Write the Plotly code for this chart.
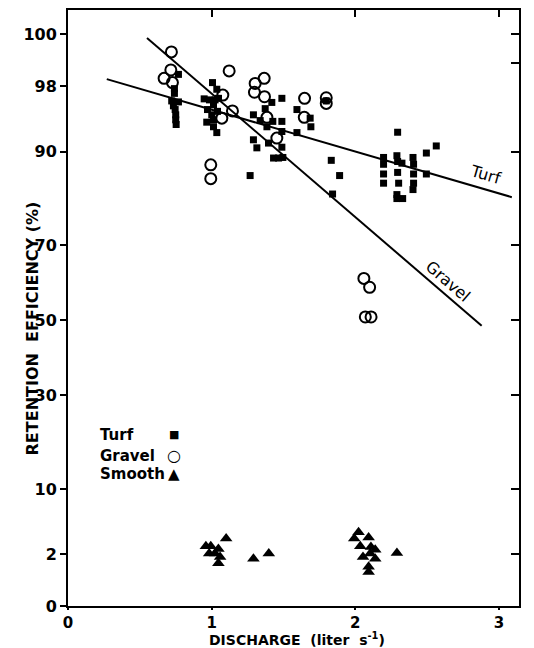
import numpy as np
import plotly.graph_objects as go

# ---------------- data ----------------
# Turf (filled squares): discharge (liter/s), retention efficiency (%)
turf_x = [0.769, 0.741, 0.741, 0.722, 0.769, 0.734, 0.746, 0.750, 0.750, 0.753,
          1.006, 1.036, 0.948, 0.985, 1.024, 1.048, 1.013, 0.971, 1.041, 1.001,
          0.966, 1.013, 1.036, 1.013,
          1.268, 1.291, 1.291, 1.315, 1.338, 1.373, 1.419, 1.385, 1.396, 1.426,
          1.489, 1.489, 1.489, 1.489, 1.431, 1.466, 1.496, 1.594, 1.594, 1.686,
          1.691, 1.798, 1.833, 1.891, 1.842,
          2.295, 2.197, 2.197, 2.197, 2.197, 2.290, 2.295, 2.325, 2.295, 2.302,
          2.290, 2.330, 2.290, 2.402, 2.406, 2.406, 2.406, 2.402, 2.495, 2.495,
          2.564]
turf_y = [98.8, 97.8, 97.4, 96.7, 96.6, 96.2, 95.8, 95.2, 94.6, 94.0,
          98.26, 97.75, 96.9, 96.8, 96.8, 96.95, 96.3, 95.8, 95.6, 95.2,
          94.3, 93.7, 92.9, 94.6,
          85.7, 95.2, 91.85, 90.6, 94.5, 95.9, 96.55, 93.7, 91.35, 94.4,
          96.95, 94.4, 93.05, 90.7, 88.9, 88.9, 89.0, 95.8, 92.9, 94.8,
          93.7, 96.7, 88.5, 85.7, 81.97,
          92.95, 89.0, 87.8, 86.0, 84.2, 89.3, 88.3, 88.0, 86.3, 84.2,
          81.85, 81.0, 81.0, 89.0, 87.8, 86.0, 84.2, 82.9, 89.75, 86.0,
          90.9]

# Gravel (open circles)
gravel_x = [0.720, 0.716, 0.669, 0.727, 1.122, 1.078, 1.145, 1.071, 0.994, 0.994,
            1.303, 1.366, 1.298, 1.368, 1.385, 1.454, 1.647, 1.645, 1.798, 1.798,
            2.060, 2.100, 2.070, 2.110]
gravel_y = [99.77, 99.05, 98.55, 98.26, 99.0, 97.25, 95.65, 94.8, 87.7, 85.1,
            98.2, 98.55, 97.5, 97.1, 94.9, 92.1, 96.95, 94.9, 97.0, 96.45,
            61.4, 59.0, 50.9, 50.9]

# Smooth (filled triangles)
smooth_x = [0.960, 0.994, 1.101, 1.047, 0.983, 1.024, 1.059, 1.047, 1.291, 1.398,
            2.023, 1.993, 2.035, 2.093, 2.109, 2.139, 2.054, 2.104, 2.139, 2.093,
            2.093, 2.290]
smooth_y = [2.68, 2.68, 3.4, 2.43, 2.06, 2.06, 1.8, 1.37, 1.68, 2.06,
            4.05, 3.4, 2.68, 3.5, 2.6, 2.38, 1.8, 2.06, 1.68, 1.16,
            0.87, 2.1]

# fitted lines (end points)
turf_fit_x = [0.27, 3.09]
turf_fit_y = [98.5, 81.3]
gravel_fit_x = [0.55, 2.88]
gravel_fit_y = [99.99, 48.5]

# axis ticks
x_ticks = [0, 1, 2, 3]
y_ticks = [0, 2, 10, 30, 50, 70, 90, 98, 100]
y_right_ticks = [2, 10, 30, 50, 70, 90, 99.4, 100]
top_ticks = [1, 2, 3]

X_RANGE = [0, 3.14]
Y_TOP_PCT_T = 1.638  # arcsine-transformed top of frame


def tr(p):
    """arcsine square-root transform used by the chart's vertical scale"""
    return np.arcsin(np.sqrt(np.clip(np.asarray(p, dtype=float), 0, 100) / 100.0))


FONT = "DejaVu Sans"

fig = go.Figure()

# fit lines
for fx, fy in [(turf_fit_x, turf_fit_y), (gravel_fit_x, gravel_fit_y)]:
    fig.add_trace(go.Scatter(x=fx, y=tr(fy), mode="lines",
                             line=dict(color="black", width=2),
                             hoverinfo="skip", showlegend=False))

fig.add_trace(go.Scatter(x=turf_x, y=tr(turf_y), mode="markers", name="Turf",
                         marker=dict(symbol="square", size=7, color="black"),
                         showlegend=False))
fig.add_trace(go.Scatter(x=gravel_x, y=tr(gravel_y), mode="markers", name="Gravel",
                         marker=dict(symbol="circle-open", size=11, color="black",
                                     line=dict(width=2, color="black")),
                         showlegend=False))
fig.add_trace(go.Scatter(x=smooth_x, y=tr(smooth_y), mode="markers", name="Smooth",
                         marker=dict(symbol="triangle-up", size=11, color="black"),
                         showlegend=False))

# dummy trace for the mirrored (top / right) tick axes
fig.add_trace(go.Scatter(x=[None], y=[None], xaxis="x2", yaxis="y2",
                         showlegend=False, hoverinfo="skip"))

tickfont = dict(family=FONT, size=16, color="black", weight="bold")
xtickfont = dict(family=FONT, size=15, color="black", weight="bold")

fig.update_layout(
    width=534, height=648,
    margin=dict(l=68, r=15, t=8, b=42),
    plot_bgcolor="white", paper_bgcolor="white",
    showlegend=False,
    xaxis=dict(range=X_RANGE, showline=True, linecolor="black", linewidth=2,
               mirror=True, ticks="outside", ticklen=2, tickwidth=2, tickcolor="black",
               tickvals=x_ticks, ticktext=[str(v) for v in x_ticks],
               tickfont=xtickfont, showgrid=False, zeroline=False),
    xaxis2=dict(range=X_RANGE, overlaying="x", side="top", ticks="inside",
                ticklen=7, tickwidth=2, tickcolor="black", tickvals=top_ticks,
                showticklabels=False, showline=False, showgrid=False, zeroline=False),
    yaxis=dict(range=[0, Y_TOP_PCT_T], showline=True, linecolor="black", linewidth=2,
               mirror=True, ticks="outside", ticklen=6, tickwidth=2, tickcolor="black",
               tickvals=tr(y_ticks), ticktext=[str(v) for v in y_ticks],
               tickfont=tickfont, showgrid=False, zeroline=False),
    yaxis2=dict(range=[0, Y_TOP_PCT_T], overlaying="y", side="right", ticks="inside",
                ticklen=8, tickwidth=2, tickcolor="black", tickvals=tr(y_right_ticks),
                showticklabels=False, showline=False, showgrid=False, zeroline=False),
)

ann = []
# axis titles
ann.append(dict(text="RETENTION  EFFICIENCY (%)", xref="paper", yref="paper",
                x=-0.104, y=0.465, textangle=-90, showarrow=False,
                font=dict(family=FONT, size=16, color="black", weight="bold")))
ann.append(dict(text="DISCHARGE  (liter  s<sup>-1</sup>)", xref="paper", yref="paper",
                x=0.508, y=-0.0555, showarrow=False, yanchor="middle",
                font=dict(family=FONT, size=14, color="black", weight="bold")))

# line labels
ann.append(dict(text="Turf", x=2.906, y=1.186, xref="x", yref="y", textangle=16,
                showarrow=False, font=dict(family=FONT, size=16, color="black")))
ann.append(dict(text="Gravel", x=2.648, y=0.893, xref="x", yref="y", textangle=41,
                showarrow=False, font=dict(family=FONT, size=16, color="black")))

# key
key = [("Turf", "■", 0.2876, 11), ("Gravel", "○", 0.2525, 16), ("Smooth", "▲", 0.2207, 15)]
for name, sym, yy, ssz in key:
    ann.append(dict(text=name, xref="paper", yref="paper", x=0.0665, y=yy,
                    xanchor="left", yanchor="middle", showarrow=False,
                    font=dict(family=FONT, size=15, color="black", weight="bold")))
    ann.append(dict(text=sym, xref="paper", yref="paper", x=0.235, y=yy,
                    xanchor="center", yanchor="middle", showarrow=False,
                    font=dict(family=FONT, size=ssz, color="black", weight="bold")))

fig.update_layout(annotations=ann)

fig.write_html("out.html")
